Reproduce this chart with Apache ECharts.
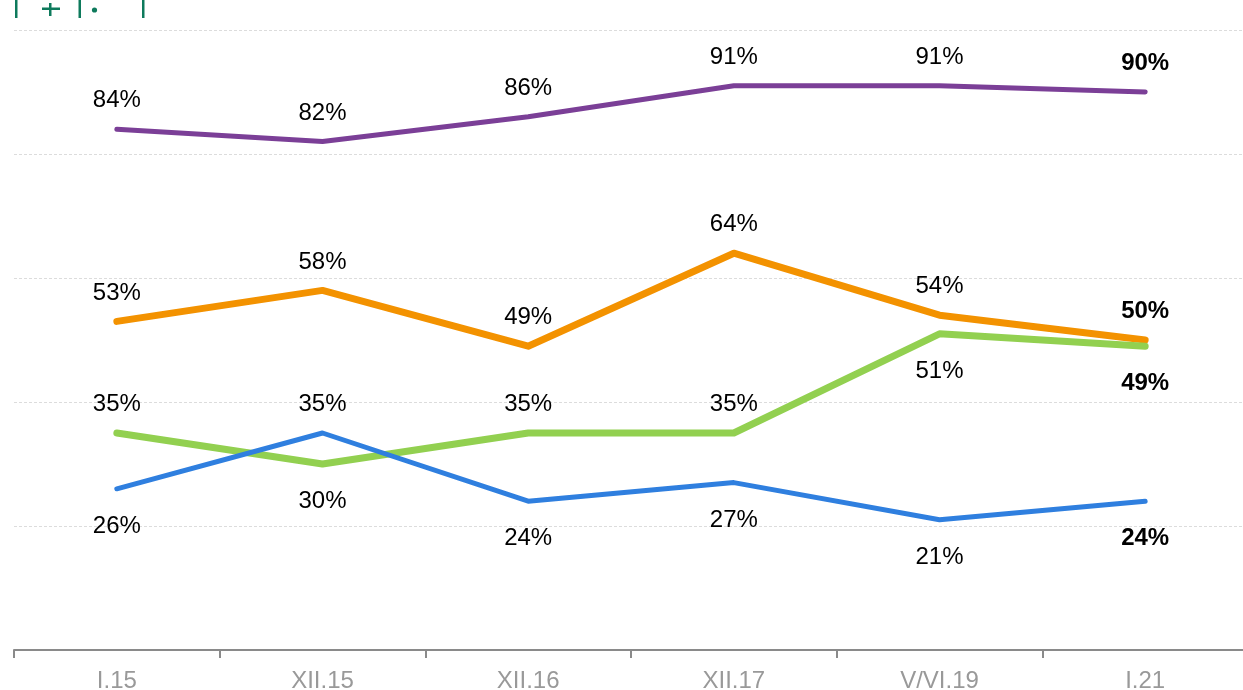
<!DOCTYPE html>
<html>
<head>
<meta charset="utf-8">
<script src="https://cdn.jsdelivr.net/npm/echarts@6/dist/echarts.min.js"></script>
<style>
  html, body { margin: 0; padding: 0; background: #fff; }
  #chart { width: 1243px; height: 690px; }
</style>
</head>
<body>
<div id="chart"></div>
<script>
// Survey waves on the category axis
const categories = ['I.15', 'XII.15', 'XII.16', 'XII.17', 'V/VI.19', 'I.21'];

// Shares in percent for each series
const purpleValues = [84, 82, 86, 91, 91, 90];
const orangeValues = [53, 58, 49, 64, 54, 50];
const greenValues  = [35, 30, 35, 35, 51, 49];
const blueValues   = [26, 35, 24, 27, 21, 24];

// Where each value label sits relative to its point
const purplePos = ['top', 'top', 'top', 'top', 'top', 'top'];
const orangePos = ['top', 'top', 'top', 'top', 'top', 'top'];
const greenPos  = ['top', 'bottom', 'top', 'top', 'bottom', 'bottom'];
const bluePos   = ['bottom', 'top', 'bottom', 'bottom', 'bottom', 'bottom'];

const yTicks = [0, 20, 40, 60, 80, 100];

// gap between a point and its label, by side
const labelGap = { top: 15, bottom: 24 };

function buildData(values, positions) {
  const last = values.length - 1;
  return values.map((v, i) => ({
    value: v,
    label: {
      position: positions[i],
      distance: labelGap[positions[i]],
      fontWeight: i === last ? 'bold' : 'normal'
    }
  }));
}

function lineSeries(name, values, positions, color, width) {
  return {
    name: name,
    type: 'line',
    data: buildData(values, positions),
    // tiny transparent symbols carry the value labels
    symbol: 'circle',
    symbolSize: 1,
    showSymbol: true,
    itemStyle: { color: 'rgba(0,0,0,0)', borderWidth: 0 },
    lineStyle: { color: color, width: width, cap: 'round', join: 'round' },
    label: {
      show: true,
      formatter: '{c}%',
      fontFamily: 'Liberation Sans, Arial, sans-serif',
      fontSize: 24,
      lineHeight: 26,
      color: '#000'
    },
    labelLayout: { hideOverlap: false },
    emphasis: { disabled: true },
    animation: false
  };
}

const chart = echarts.init(document.getElementById('chart'), null, { renderer: 'canvas' });

const mark = '#0e7a5c';

chart.setOption({
  animation: false,
  grid: { left: 14, top: 30, width: 1234, bottom: 40, containLabel: false, outerBoundsMode: 'none' },
  xAxis: {
    type: 'category',
    data: categories,
    boundaryGap: true,
    axisLine: { show: true, lineStyle: { color: '#8a8a8a', width: 2 } },
    axisTick: { show: true, length: 8, lineStyle: { color: '#8a8a8a', width: 2 } },
    axisLabel: {
      color: '#999999',
      fontFamily: 'Liberation Sans, Arial, sans-serif',
      fontSize: 24,
      margin: 19
    },
    splitLine: { show: false }
  },
  yAxis: {
    type: 'value',
    min: yTicks[0],
    max: yTicks[yTicks.length - 1],
    interval: yTicks[1] - yTicks[0],
    axisLine: { show: false },
    axisTick: { show: false },
    axisLabel: { show: false },
    splitLine: { show: true, lineStyle: { color: '#dcdcdc', type: [3, 2], width: 1 } }
  },
  graphic: [
    { type: 'rect', shape: { x: 15, y: 0, width: 2.5, height: 18 }, style: { fill: mark } },
    { type: 'rect', shape: { x: 78.5, y: 0, width: 2.5, height: 18 }, style: { fill: mark } },
    { type: 'rect', shape: { x: 142, y: 0, width: 2.5, height: 18 }, style: { fill: mark } },
    { type: 'rect', shape: { x: 42, y: 7.5, width: 18, height: 2.5 }, style: { fill: mark } },
    { type: 'rect', shape: { x: 49, y: 3, width: 2.5, height: 13 }, style: { fill: mark } },
    { type: 'circle', shape: { cx: 94.5, cy: 10, r: 2.6 }, style: { fill: mark } }
  ],
  series: [
    lineSeries('purple', purpleValues, purplePos, '#7b3f97', 5),
    lineSeries('orange', orangeValues, orangePos, '#f39200', 7),
    lineSeries('green', greenValues, greenPos, '#92d050', 7),
    lineSeries('blue', blueValues, bluePos, '#2f7fdf', 5)
  ]
});
</script>
</body>
</html>
